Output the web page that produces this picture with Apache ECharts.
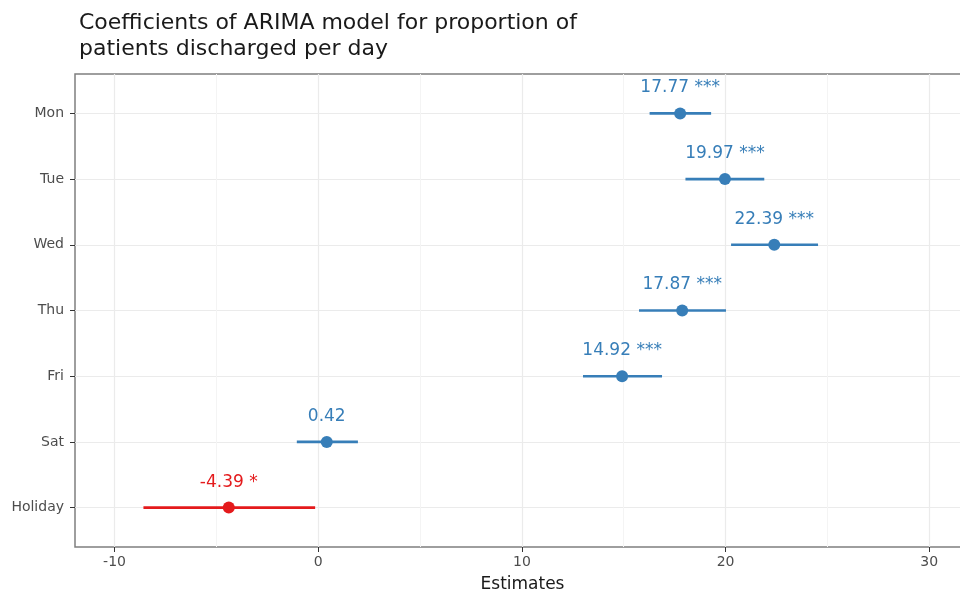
<!DOCTYPE html>
<html>
<head>
<meta charset="utf-8">
<script src="https://cdn.jsdelivr.net/npm/echarts@6/dist/echarts.min.js"></script>
<style>
  html, body { margin: 0; padding: 0; background: #fff; }
  #main { width: 960px; height: 597px; }
</style>
</head>
<body>
<div id="main"></div>
<script>
// model terms, top to bottom
var terms = ['Mon', 'Tue', 'Wed', 'Thu', 'Fri', 'Sat', 'Holiday'];
var estimates = [17.77, 19.97, 22.39, 17.87, 14.92, 0.42, -4.39];
var ciLow = [16.27, 18.03, 20.27, 15.75, 13.0, -1.05, -8.58];
var ciHigh = [19.29, 21.9, 24.54, 20.02, 16.88, 1.95, -0.15];
var stars = ['***', '***', '***', '***', '***', '', '*'];
var xTicks = [-10, 0, 10, 20, 30];
var xMinorTicks = [-5, 5, 15, 25];
var rowIdx = [0, 1, 2, 3, 4, 5, 6];

var blue = '#377eb8';
var red = '#e41a1c';
var font = 'DejaVu Sans, sans-serif';

function colorOf(i) {
  return estimates[i] < 0 ? red : blue;
}

var barData = [];
var pointData = [];
for (var i = 0; i < terms.length; i++) {
  barData.push([ciLow[i], ciHigh[i], i]);
  pointData.push({
    value: [estimates[i], i],
    itemStyle: { color: colorOf(i), opacity: 1 },
    label: {
      color: colorOf(i),
      formatter: estimates[i].toFixed(2) + (stars[i] ? ' ' + stars[i] : '')
    }
  });
}

var chart = echarts.init(document.getElementById('main'));
var option = {
  animation: false,
  backgroundColor: '#fff',
  title: {
    text: 'Coefficients of ARIMA model for proportion of\npatients discharged per day',
    left: 74,
    top: 5,
    textStyle: {
      fontFamily: font,
      fontSize: 22,
      fontWeight: 'normal',
      color: '#1a1a1a',
      lineHeight: 26
    }
  },
  grid: {
    left: 75,
    width: 895,
    top: 74,
    bottom: 50,
    outerBoundsMode: 'none',
    containLabel: false,
    show: true,
    borderColor: '#7f7f7f',
    borderWidth: 1.5,
    backgroundColor: 'transparent'
  },
  xAxis: [{
    type: 'value',
    min: -11.94,
    max: 32.0,
    axisLine: { show: false, onZero: false },
    axisTick: { show: true, length: 5, lineStyle: { color: '#333' }, customValues: xTicks },
    axisLabel: { customValues: xTicks, color: '#4d4d4d', fontSize: 14, fontFamily: font, margin: 8 },
    splitLine: { show: true, lineStyle: { color: '#ebebeb', width: 1.2 } },
    name: 'Estimates',
    nameLocation: 'middle',
    nameGap: 29,
    nameTextStyle: { color: '#1a1a1a', fontSize: 17, fontFamily: font }
  }, {
    type: 'value',
    min: -11.94,
    max: 32.0,
    position: 'bottom',
    axisLine: { show: false, onZero: false },
    axisTick: { show: false, customValues: xMinorTicks },
    axisLabel: { show: false, customValues: xMinorTicks },
    splitLine: { show: true, lineStyle: { color: '#f4f4f4', width: 1 } }
  }],
  yAxis: {
    type: 'value',
    inverse: true,
    min: -0.6,
    max: 6.6,
    axisLine: { show: false, onZero: false },
    axisTick: { show: true, length: 5, lineStyle: { color: '#333' }, customValues: rowIdx },
    axisLabel: {
      customValues: rowIdx,
      color: '#4d4d4d',
      fontSize: 14,
      fontFamily: font,
      margin: 11,
      formatter: function (v) { return terms[Math.round(v)] || ''; }
    },
    splitLine: { show: true, lineStyle: { color: '#ebebeb', width: 1.2 } }
  },
  series: [{
    type: 'custom',
    xAxisIndex: 0,
    data: barData,
    renderItem: function (params, api) {
      var a = api.coord([api.value(0), api.value(2)]);
      var b = api.coord([api.value(1), api.value(2)]);
      return {
        type: 'line',
        shape: { x1: a[0], y1: a[1], x2: b[0], y2: b[1] },
        style: { stroke: colorOf(params.dataIndex), lineWidth: 2.6 }
      };
    },
    z: 2
  }, {
    type: 'scatter',
    xAxisIndex: 0,
    symbolSize: 12,
    data: pointData,
    label: {
      show: true,
      position: 'top',
      distance: 11,
      fontSize: 17,
      fontFamily: font
    },
    z: 3
  }]
};
chart.setOption(option);
</script>
</body>
</html>
